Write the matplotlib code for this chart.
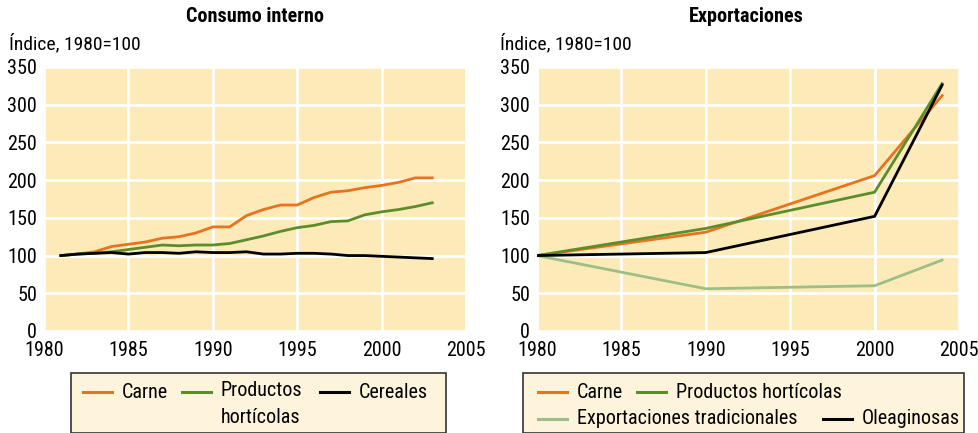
import matplotlib
matplotlib.use("Agg")
import matplotlib.pyplot as plt
from matplotlib import font_manager
from matplotlib.lines import Line2D
from matplotlib.patches import Rectangle

names = {f.name for f in font_manager.fontManager.ttflist}
FONT = "DejaVu Sans"
for cand in ["Roboto Condensed", "Archivo Narrow", "Barlow Semi Condensed",
             "Asap Condensed", "Liberation Sans Narrow"]:
    if cand in names:
        FONT = cand
        break
plt.rcParams["font.family"] = [FONT, "DejaVu Sans"]

# ---------------- data ----------------
years_left = list(range(1981, 2004))
carne_int = [100, 102, 105, 112, 115, 118, 123, 125, 130, 138, 138, 153, 161, 167, 167,
             177, 184, 186, 190, 193, 197, 203, 203]
hort_int = [100, 102, 103, 105, 108, 111, 114, 113, 114, 114, 116, 121, 126, 132, 137,
            140, 145, 146, 154, 158, 161, 165, 170]
cereal_int = [100, 102, 103, 104, 102, 104, 104, 103, 105, 104, 104, 105, 102, 102, 103,
              103, 102, 100, 100, 99, 98, 97, 96]

years_right = [1980, 1990, 2000, 2004]
carne_exp = [100, 131, 206, 312]
hort_exp = [100, 136, 184, 328]
trad_exp = [100, 56, 60, 94]
oleag_exp = [100, 104, 152, 326]

xticks = [1980, 1985, 1990, 1995, 2000, 2005]
yticks = [0, 50, 100, 150, 200, 250, 300, 350]
titles = ["Consumo interno", "Exportaciones"]
ylabel = "Índice, 1980=100"

ORANGE = "#e8731f"
GREEN = "#5b8e2b"
PALE = "#9dbf86"
BLACK = "#000000"
BG = "#fdeab9"
LEGBG = "#fef4dc"

W, H = 979, 433
fig = plt.figure(figsize=(W / 100, H / 100), dpi=100)

def px(x0, y0, x1, y1):
    return [x0 / W, 1 - y1 / H, (x1 - x0) / W, (y1 - y0) / H]

axL = fig.add_axes(px(44, 67, 466, 331))
axR = fig.add_axes(px(537, 67, 959, 331))

FS = 14.5
for ax in (axL, axR):
    ax.set_facecolor(BG)
    ax.set_xlim(1980, 2005)
    ax.set_ylim(0, 350)
    ax.set_xticks(xticks)
    ax.set_yticks(yticks)
    ax.grid(True, color="white", linewidth=2)
    ax.set_axisbelow(True)
    for s in ax.spines.values():
        s.set_visible(False)
    ax.tick_params(length=0, labelsize=FS, pad=5)
    ax.tick_params(axis="x", pad=7.5)

lw = 2.0
axL.plot(years_left, carne_int, color=ORANGE, lw=lw)
axL.plot(years_left, hort_int, color=GREEN, lw=lw)
axL.plot(years_left, cereal_int, color=BLACK, lw=lw)

axR.plot(years_right, trad_exp, color=PALE, lw=lw)
axR.plot(years_right, carne_exp, color=ORANGE, lw=lw)
axR.plot(years_right, hort_exp, color=GREEN, lw=lw)
axR.plot(years_right, oleag_exp, color=BLACK, lw=lw)

# titles and y label
fig.text(255 / W, 1 - 16 / H, titles[0], ha="center", va="center", fontsize=FS, fontweight="bold")
fig.text(746 / W, 1 - 16 / H, titles[1], ha="center", va="center", fontsize=FS, fontweight="bold")
fig.text(9 / W, 1 - 44 / H, ylabel, ha="left", va="center", fontsize=FS - 0.5)
fig.text(500 / W, 1 - 44 / H, ylabel, ha="left", va="center", fontsize=FS - 0.5)

# legends
def box(x0, x1):
    fig.add_artist(Rectangle((x0 / W, 0), (x1 - x0) / W, 1 - 373 / H,
                             transform=fig.transFigure, facecolor=LEGBG,
                             edgecolor="#333333", linewidth=1.2))

def entry(x, y, color, label):
    fig.add_artist(Line2D([x / W, (x + 29) / W], [1 - y / H, 1 - y / H],
                          transform=fig.transFigure, color=color, lw=2.2))
    fig.text((x + 39) / W, 1 - y / H, label, ha="left", va="center", fontsize=FS,
             linespacing=1.25)

box(71, 446)
entry(83, 392, ORANGE, "Carne")
fig.add_artist(Line2D([182 / W, 211 / W], [1 - 392 / H, 1 - 392 / H],
                      transform=fig.transFigure, color=GREEN, lw=2.2))
fig.text(221 / W, 1 - 381 / H, "Productos\nhortícolas", ha="left", va="top",
         fontsize=FS, linespacing=1.55)
entry(320, 392, BLACK, "Cereales")

box(523, 964)
entry(538, 392, ORANGE, "Carne")
entry(637, 392, GREEN, "Productos hortícolas")
entry(538, 419, PALE, "Exportaciones tradicionales")
entry(823, 419, BLACK, "Oleaginosas")

fig.savefig("out.png", dpi=100)
